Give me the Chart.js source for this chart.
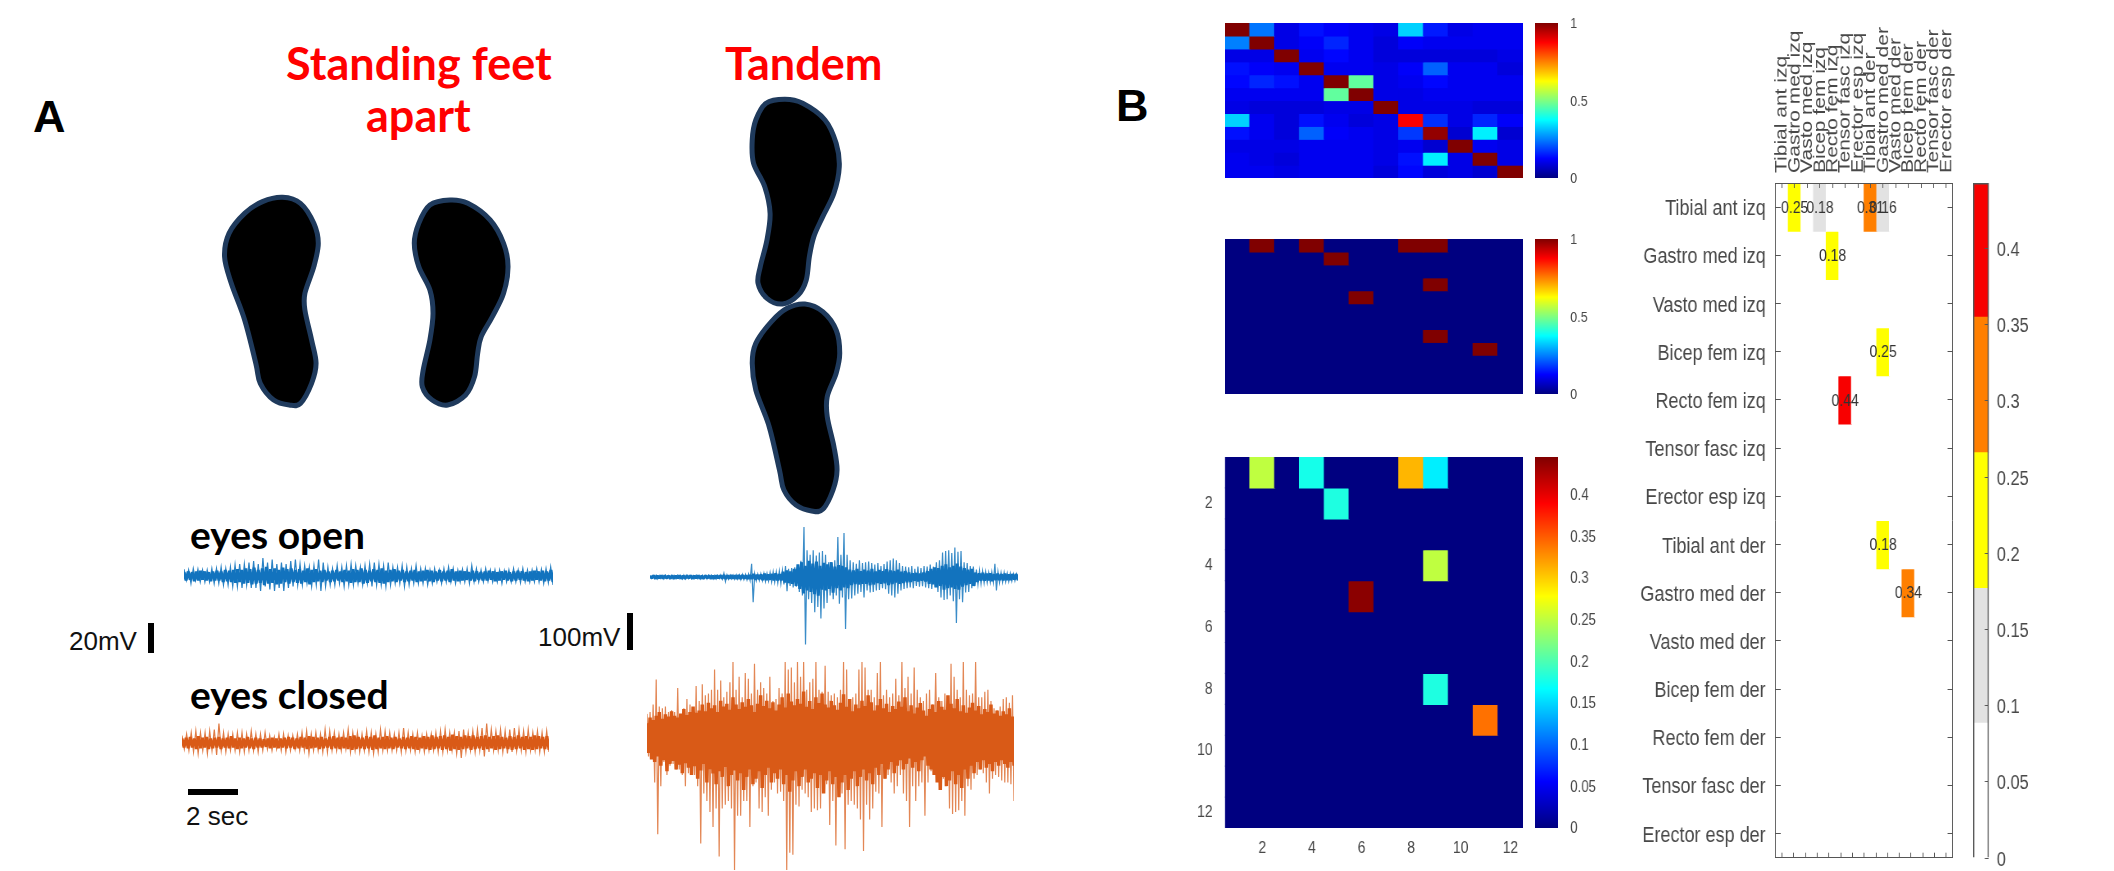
<!DOCTYPE html>
<html>
<head>
<meta charset="utf-8">
<title>EMG traces and muscle coherence</title>
<script src="https://cdn.jsdelivr.net/npm/chart.js@4"></script>
<style>
  html, body { margin: 0; background: #fff; }
  body { position: relative; width: 2114px; height: 871px; overflow: hidden; }
  canvas { position: absolute; transform-origin: 0 0; }
  .t { position: absolute; white-space: nowrap; line-height: 1; }
  .red { font: bold 45px Lato, sans-serif; color: #f00; }
  .cond { font: bold 39px Lato, sans-serif; color: #000; }
  .panel { font: bold 45px "Liberation Sans", sans-serif; color: #000; }
  .note { font: 26px "Liberation Sans", sans-serif; color: #111; }
  .bar { position: absolute; background: #000; }
  svg { position: absolute; }
</style>
</head>
<body>
<div class="t panel" style="left:33px;top:91px">A</div>
<div class="t panel" style="left:1116px;top:80px">B</div>
<div class="t red" style="left:286px;top:36px">Standing feet</div>
<div class="t red" style="left:366px;top:88px">apart</div>
<div class="t red" style="left:725px;top:36px">Tandem</div>
<div class="t cond" style="left:190px;top:511px">eyes open</div>
<div class="t cond" style="left:190px;top:671px">eyes closed</div>
<div class="t note" style="left:69px;top:626px">20mV</div>
<div class="t note" style="left:538px;top:622px">100mV</div>
<div class="t note" style="left:186px;top:801px">2 sec</div>
<div class="bar" style="left:148px;top:623px;width:6px;height:30px"></div>
<div class="bar" style="left:627px;top:613px;width:6px;height:37px"></div>
<div class="bar" style="left:188px;top:789px;width:50px;height:6px"></div>
<svg id="feet" width="700" height="500" viewBox="0 0 1568 1500" preserveAspectRatio="none" style="left:200px;top:20px"></svg>

<script>
// ---- panel A: EMG envelopes (mV), one high/low pair per sample
const traceSeconds = 14.7;

const openApartHigh = [4.5,4,5,4.5,4,4,5,5,6,5,6,7.5,8,8,9,10,8,12,9,11,8,9,8,10,11,8,7,6,7,11,9,6,5,7,6,7,8,7,6,7,8,9,8,7,9,6,6,7,6,5,7,5,5,4,5,4,5,6,5,4,4.5,5,7,5,4,5,4,4,4,3.5,4,5,4,5,4,4,5,4.5,5,6];
const openApartLow = [-3,-5,-3,-4,-4,-4,-5,-5,-6,-6,-7,-7,-8,-6,-8,-8,-10,-7,-9,-10,-8,-10,-8,-7,-6,-6,-5,-7,-6,-10,-7,-6,-6,-5,-7,-6,-6,-5,-6,-5,-7,-6,-6,-7,-6,-5,-5,-7,-6,-5,-5,-5,-6,-5,-4,-5,-4,-4,-5,-4,-4,-5,-4,-4,-4,-3.5,-4,-4,-5,-4,-4,-4,-4.5,-4,-4,-4,-4,-5,-4.5,-6];
const openApartCoreHigh = [2.5,3,2.5,3,3.5,3,2.5,3,3.5,3,4,3.5,4,4.5,4,5,4.5,5.5,4,5,6,4.5,5,4,5.5,4.5,5,4,4.5,3.5,5,4,4.5,3.5,4,3,3.5,4,3,4,3.5,4.5,4,5,4,3.5,4.5,4,5,3.5,4,4.5,3.5,4,3,3.5,4,3,3.5,4,3.5,3,4,3,3.5,4.5,3,3.5,3,2.5,3.5,3,2.5,3,3.5,3,2.5,3,3.5,2.5,3,3.5,3,2.5,3,3.5,3,3.5,3,4];
const openApartCoreLow = [-3,-2.5,-3.5,-3,-2.5,-3,-3.5,-3,-3,-4,-3.5,-4,-4.5,-4,-5,-4.5,-5.5,-5,-4.5,-6,-5,-4.5,-5.5,-5,-4,-5,-4,-4.5,-5,-4,-5.5,-4,-3.5,-4,-3,-4,-3.5,-3,-4,-3.5,-4.5,-4,-4,-5,-4.5,-3.5,-4,-4.5,-5,-4,-3.5,-4,-3,-4,-3.5,-3,-4,-3.5,-3,-3.5,-4,-3,-3.5,-3,-4,-3,-3.5,-3,-2.5,-3,-3.5,-2.5,-3,-3,-2.5,-3.5,-3,-2.5,-3,-3.5,-3,-2.5,-3,-3.5,-3,-2.5,-3,-3.5,-3,-4];

const closedApartHigh = [5,6,7,8,7,7,8,9,13,7,6,6,7,7,6,8,6,6,7,5,4,6,6,5,5,6,7,8,6,7,6,9,8,7,6,7,9,7,7,6,8,7,6,9,8,7,6,7,10,7,6,7,5,6,6,7,8,9,7,7,8,9,7,8,9,10,13,9,8,9,8,9,10,9,8,9,7,8,7,8];
const closedApartLow = [-4,-5,-6,-7,-5,-7,-5,-8,-5,-6,-5,-5,-6,-6,-5,-5,-6,-5,-4,-5,-4,-5,-6,-5,-4,-5,-5,-7,-5,-5,-6,-6,-5,-5,-5,-4,-6,-5,-6,-5,-6,-7,-6,-5,-5,-5,-5,-6,-5,-5,-6,-5,-6,-5,-5,-6,-6,-5,-5,-7,-10,-6,-5,-6,-5,-9,-6,-5,-5,-6,-7,-6,-5,-5,-6,-5,-5,-6,-6,-6];
const closedApartCoreHigh = [3,3.5,4,3,4.5,3.5,4,3,3.5,4,3,3.5,4.5,3,3.5,3,4,3,3.5,3,2.5,3,3.5,3,3,3.5,4,3.5,3,4,3.5,4.5,4,3.5,4,3,4,4.5,3.5,4,3.5,4.5,5,4,3.5,4.5,4,5,3.5,4,4.5,3.5,4,3,4,3.5,4.5,4,3.5,4.5,4,5,4,4.5,5,4,5.5,4.5,4,5,4.5,5,4,4.5,5,4,4.5,5,4,3.5,4.5,4,5,4,4.5,4,5,4.5,4,4.5];
const closedApartCoreLow = [-3,-3.5,-3,-4,-3.5,-3,-4,-3.5,-3,-4,-3,-3.5,-3,-4,-3.5,-3,-3.5,-4,-3,-3,-2.5,-3.5,-3,-3.5,-3,-3.5,-3,-4,-3.5,-3,-4,-3.5,-3,-4,-3.5,-3,-4,-3.5,-4,-3.5,-4,-4.5,-4,-3.5,-4,-3.5,-4.5,-4,-3.5,-4,-3.5,-4,-3,-3.5,-4,-3.5,-4,-4.5,-3.5,-4,-4.5,-4,-3.5,-4.5,-4,-5,-4,-4.5,-4,-3.5,-4.5,-4,-3.5,-4.5,-4,-3.5,-4.5,-4,-3.5,-4,-4.5,-4,-3.5,-4.5,-4,-4.5,-4,-3.5,-4,-4.5];

const openTandemHigh = [4,4,5,4,4,5,4,4,4,5,4,5,5,4,4,5,4,5,4,5,5,4,5,6,10,6,5,5,6,6,7,7,8,36,9,8,9,10,10,12,14,14,16,18,30,22,24,26,30,44,135,72,60,72,58,66,70,60,40,40,45,108,60,119,60,45,40,36,45,38,40,42,38,34,38,30,35,42,45,50,45,38,30,28,26,30,22,28,24,30,28,34,28,40,45,66,70,72,65,80,68,70,40,38,30,28,20,18,16,14,12,14,36,14,12,12,10,10,8,8];
const openTandemLow = [-4,-4,-5,-4,-5,-4,-4,-5,-4,-4,-5,-5,-4,-5,-4,-4,-5,-4,-5,-4,-5,-5,-4,-6,-12,-6,-5,-6,-6,-7,-7,-8,-9,-68,-10,-9,-10,-12,-11,-13,-14,-16,-18,-20,-38,-24,-28,-26,-40,-50,-182,-60,-70,-95,-81,-112,-85,-70,-50,-60,-50,-72,-55,-140,-60,-58,-50,-45,-40,-55,-36,-42,-40,-36,-35,-30,-33,-45,-50,-55,-45,-36,-32,-30,-28,-30,-24,-26,-25,-28,-30,-32,-28,-40,-55,-62,-60,-50,-65,-124,-60,-68,-42,-40,-30,-24,-20,-18,-16,-15,-14,-14,-36,-15,-14,-13,-12,-11,-10,-10];
const openTandemCoreHigh = [3,4,3,4,4,3,4,3,4,3,4,4,3,4,3,4,4,3,4,4,5,4,5,4,5,5,4,5,8,6,7,9,7,8,10,8,14,18,15,22,34,40,30,44,36,42,30,38,34,40,28,32,30,26,20,18,22,16,20,17,22,15,19,16,21,18,16,20,14,16,12,10,11,9,12,16,22,26,24,30,34,26,30,36,28,24,20,22,12,10,11,9,10,8,9,8,9,7,8,8];
const openTandemCoreLow = [-3,-4,-3,-4,-3,-4,-4,-3,-4,-4,-3,-4,-3,-4,-4,-3,-4,-4,-3,-4,-5,-4,-4,-5,-5,-4,-5,-5,-7,-6,-8,-8,-7,-9,-9,-9,-15,-16,-18,-24,-32,-44,-36,-40,-46,-50,-34,-36,-32,-42,-30,-36,-28,-30,-22,-19,-20,-18,-18,-22,-20,-16,-18,-17,-22,-19,-15,-18,-16,-14,-13,-10,-12,-10,-12,-18,-20,-28,-24,-34,-30,-28,-32,-34,-26,-22,-18,-24,-13,-10,-10,-9,-11,-8,-8,-9,-8,-8,-7,-8];

const closedTandemHigh = [65,70,90,158,85,80,85,70,75,70,135,60,80,105,90,75,140,100,145,115,120,130,185,130,155,110,125,150,207,130,165,110,175,160,120,200,130,150,135,120,165,100,105,135,120,205,185,190,150,205,165,205,130,150,160,205,130,125,195,125,115,120,110,130,207,185,105,110,120,185,205,190,130,130,110,175,207,115,130,110,120,160,115,207,135,165,120,190,130,110,100,120,130,90,175,110,100,120,110,200,165,130,110,207,130,115,120,207,110,110,125,130,100,80,75,85,105,110,95,115];
const closedTandemLow = [-50,-55,-120,-260,-130,-65,-100,-75,-70,-85,-85,-100,-130,-95,-80,-100,-130,-285,-150,-170,-200,-240,-190,-320,-190,-180,-170,-190,-356,-210,-210,-170,-170,-240,-130,-120,-190,-200,-160,-210,-140,-120,-150,-145,-170,-356,-310,-315,-180,-185,-140,-150,-160,-200,-190,-195,-190,-130,-125,-235,-170,-290,-140,-150,-300,-180,-170,-180,-190,-220,-305,-180,-220,-190,-145,-150,-240,-110,-100,-120,-150,-130,-100,-150,-170,-240,-130,-170,-130,-120,-210,-120,-90,-40,-60,-130,-110,-125,-190,-205,-200,-195,-170,-210,-130,-140,-110,-100,-85,-95,-120,-150,-110,-100,-105,-115,-120,-120,-125,-170];
const closedTandemCoreHigh = [40,55,48,60,70,52,64,58,72,60,55,66,78,62,70,85,68,74,90,72,95,80,88,70,100,85,92,76,110,90,78,96,84,105,88,70,92,115,86,100,80,96,74,90,110,82,120,98,88,105,92,125,84,100,78,110,94,120,90,82,100,88,76,95,118,84,105,72,90,80,100,86,115,96,74,88,105,80,92,70,86,78,98,84,110,72,88,66,82,94,74,60,78,90,70,100,84,76,115,92,80,105,72,88,68,82,95,74,86,64,78,70,90,66,74,60,72,64,80,58];
const closedTandemCoreLow = [-40,-58,-65,-50,-75,-60,-90,-70,-62,-85,-72,-95,-68,-80,-100,-76,-110,-88,-70,-120,-84,-96,-125,-90,-105,-78,-130,-100,-88,-115,-95,-140,-105,-85,-125,-110,-90,-135,-100,-80,-120,-95,-110,-85,-125,-100,-145,-115,-90,-130,-105,-85,-120,-110,-95,-135,-100,-150,-115,-90,-125,-105,-160,-120,-100,-140,-110,-90,-130,-105,-85,-115,-95,-125,-80,-100,-70,-110,-85,-65,-95,-75,-60,-85,-70,-55,-80,-65,-90,-60,-50,-75,-85,-100,-120,-140,-105,-130,-115,-90,-125,-100,-135,-85,-110,-75,-95,-65,-85,-60,-80,-70,-90,-65,-75,-60,-70,-80,-65,-75];

// ---- panel B: the connectivity matrices
const matrixTicks = [2, 4, 6, 8, 10, 12];
const coherenceRows = [
  [1,.24,.1,.14,.12,.11,.1,.33,.15,.1,.11,.11],
  [.25,1,.1,.12,.16,.11,.09,.12,.11,.11,.11,.11],
  [.1,.1,1,.11,.13,.11,.09,.09,.09,.09,.09,.1],
  [.14,.12,.11,1,.11,.11,.1,.12,.22,.11,.11,.09],
  [.13,.16,.14,.11,1,.47,.1,.11,.13,.11,.11,.11],
  [.11,.11,.11,.11,.47,1,.1,.1,.11,.11,.11,.11],
  [.1,.09,.09,.09,.1,.1,1,.1,.1,.1,.09,.09],
  [.33,.11,.09,.14,.11,.09,.1,.88,.17,.1,.16,.12],
  [.14,.11,.09,.22,.12,.11,.1,.18,.98,.08,.36,.08],
  [.1,.1,.1,.11,.11,.11,.1,.11,.08,1,.11,.1],
  [.11,.1,.09,.11,.11,.11,.1,.14,.36,.1,1,.1],
  [.11,.11,.1,.11,.11,.11,.09,.13,.09,.1,.08,1]
];
const linkRows = [1, 1, 1, 1, 2, 4, 5, 8, 9];
const linkCols = [2, 4, 8, 9, 5, 9, 6, 9, 11];
const linkValues = [.25, .176, .31, .16, .18, .25, .44, .18, .34];
const muscles = ['Tibial ant izq', 'Gastro med izq', 'Vasto med izq', 'Bicep fem izq', 'Recto fem izq', 'Tensor fasc izq', 'Erector esp izq',
  'Tibial ant der', 'Gastro med der', 'Vasto med der', 'Bicep fem der', 'Recto fem der', 'Tensor fasc der', 'Erector esp der'];
const unitTicks = [0, 0.5, 1];
const linkTicks = [0, 0.05, 0.1, 0.15, 0.2, 0.25, 0.3, 0.35, 0.4];
const linkMax = 0.445;
const binEdges = [0, 0.0886, 0.177, 0.266, 0.355, 0.443];
const binColors = ['#ffffff', '#e2e2e2', '#ffff00', '#ff7f00', '#f80000'];

// panel B is squeezed sideways in the figure, so its canvases are drawn wide and scaled back
const squeeze = 0.82;
const wide = n => n / squeeze;
const sans = '"Liberation Sans", sans-serif';
const inkColor = '#484848';
Chart.defaults.animation = false;
Chart.defaults.responsive = false;
Chart.defaults.plugins.legend.display = false;
Chart.defaults.plugins.tooltip.enabled = false;
Chart.defaults.color = inkColor;
Chart.defaults.font.family = sans;

function jet(t) {
  const stops = [[0, 0, 0, 128], [.125, 0, 0, 255], [.375, 0, 255, 255], [.625, 255, 255, 0], [.875, 255, 0, 0], [1, 128, 0, 0]];
  t = Math.min(1, Math.max(0, t));
  let i = 0;
  while (i < stops.length - 2 && t > stops[i + 1][0]) i++;
  const a = stops[i], b = stops[i + 1], k = (t - a[0]) / (b[0] - a[0]);
  return 'rgb(' + [1, 2, 3].map(j => Math.round(a[j] + (b[j] - a[j]) * k)).join(',') + ')';
}

function place(x, y, w, h, k) {
  const c = document.createElement('canvas');
  c.width = Math.round(w / (k || 1));
  c.height = h;
  c.style.left = x + 'px';
  c.style.top = y + 'px';
  if (k) c.style.transform = 'scaleX(' + k + ')';
  document.body.appendChild(c);
  return c;
}

// fixed axis sizes, no label overhang, so the plot area lands where it does in the figure
function flat(s) { s.paddingLeft = s.paddingRight = s.paddingTop = s.paddingBottom = 0; }
const axisWidth = n => s => { s.width = n; flat(s); };
const axisHeight = n => s => { s.height = n; flat(s); };
const pin = values => s => { s.ticks = values.map(v => ({ value: v })); };
const seq = n => Array.from({ length: n }, (_, i) => i + 1);

// ---- traces
function zigzag(high, low) {
  const n = Math.min(high.length, low.length), pts = [];
  for (let i = 0; i < n; i++) {
    pts.push({ x: traceSeconds * (2 * i) / (2 * n - 1), y: high[i] });
    pts.push({ x: traceSeconds * (2 * i + 1) / (2 * n - 1), y: low[i] });
  }
  return pts;
}
function drawTrace(box, mvTop, mvBottom, high, low, coreHigh, coreLow, lineColor, coreColor, coreWidth) {
  new Chart(place(box[0], box[1], box[2], box[3]), {
    type: 'line',
    data: {
      // the first dataset is painted last, so the dense core sits over the thin spikes
      datasets: [
        { data: zigzag(coreHigh, coreLow), fill: false, borderColor: coreColor, borderWidth: coreWidth, borderJoinStyle: 'bevel', pointRadius: 0 },
        { data: zigzag(high, low), fill: false, borderColor: lineColor, borderWidth: 1.2, pointRadius: 0 }
      ]
    },
    options: {
      scales: {
        x: { type: 'linear', display: false, min: 0, max: traceSeconds },
        y: { display: false, min: mvBottom, max: mvTop }
      }
    }
  });
}

drawTrace([184, 553, 369, 47], 15.3, -16, openApartHigh, openApartLow, openApartCoreHigh, openApartCoreLow, '#2a82c4', '#1273be', 3);
drawTrace([182, 718, 367, 47], 16.7, -14.7, closedApartHigh, closedApartLow, closedApartCoreHigh, closedApartCoreLow, '#e07b45', '#d95a17', 3);
drawTrace([650, 520, 368, 130], 154, -197, openTandemHigh, openTandemLow, openTandemCoreHigh, openTandemCoreLow, '#3a8cc8', '#1273be', 3);
drawTrace([647, 662, 367, 209], 205, -359, closedTandemHigh, closedTandemLow, closedTandemCoreHigh, closedTandemCoreLow, '#e38755', '#d95a17', 3.5);

// ---- matrices: one floating-bar dataset per row, one bar per column
function rowDatasets(n, colorOf) {
  return seq(n).map(r => ({
    data: seq(n).map(() => [r - 0.5, r + 0.5]),
    backgroundColor: seq(n).map(c => colorOf(r, c)),
    grouped: false, barPercentage: 1, categoryPercentage: 1, inflateAmount: 0.6
  }));
}
function linkValue(r, c) {
  const i = linkRows.findIndex((row, k) => row === r && linkCols[k] === c);
  return i < 0 ? 0 : linkValues[i];
}

function jetMatrix(box, colorOf, withAxes) {
  const left = withAxes ? 40 : 0, bottom = withAxes ? 30 : 0;
  const font = { size: 17 };
  new Chart(place(box[0] - left, box[1], box[2] + left, box[3] + bottom, squeeze), {
    type: 'bar',
    data: { labels: seq(12), datasets: rowDatasets(12, colorOf) },
    options: {
      scales: {
        x: {
          display: withAxes, afterFit: axisHeight(bottom), grid: { display: false }, border: { display: false },
          ticks: { font, padding: 2, maxRotation: 0, autoSkip: false, callback: (v, i) => (i % 2 ? i + 1 : '') }
        },
        y: {
          display: withAxes, reverse: true, min: 0.5, max: 12.5, afterFit: axisWidth(wide(left)), afterBuildTicks: pin(matrixTicks),
          grid: { display: false }, border: { display: false }, ticks: { font, padding: 7 }
        }
      }
    }
  });
}

function jetColorbar(box, max, tickValues, size) {
  new Chart(place(box[0], box[1] - 10, box[2] + 45, box[3] + 20, squeeze), {
    type: 'bar',
    data: {
      labels: ['scale'],
      datasets: [{
        data: [[0, max]], barPercentage: 1, categoryPercentage: 1,
        backgroundColor: ctx => {
          const a = ctx.chart.chartArea;
          if (!a) return '#000';
          const g = ctx.chart.ctx.createLinearGradient(0, a.bottom, 0, a.top);
          for (let i = 0; i <= 32; i++) g.addColorStop(i / 32, jet(i / 32));
          return g;
        }
      }]
    },
    options: {
      layout: { padding: { top: 10, bottom: 10 } },
      scales: {
        x: { display: false },
        y: {
          position: 'right', min: 0, max, afterFit: axisWidth(wide(45)), afterBuildTicks: pin(tickValues),
          grid: { display: false }, border: { display: false },
          ticks: { font: { size }, padding: 7, labelOffset: 1, callback: v => String(v) }
        }
      }
    }
  });
}

jetMatrix([1225, 23, 298, 155], (r, c) => jet(coherenceRows[r - 1][c - 1]), false);
jetMatrix([1225, 239, 298, 155], (r, c) => jet(linkValue(r, c) > 0 ? 1 : 0), false);
jetMatrix([1225, 457, 298, 371], (r, c) => jet(linkValue(r, c) / linkMax), true);
jetColorbar([1535, 23, 23, 155], 1, unitTicks, 15);
jetColorbar([1535, 239, 23, 155], 1, unitTicks, 15);
jetColorbar([1535, 457, 23, 371], linkMax, linkTicks, 16);

// ---- thresholded matrix with the values written on the cells
function binColor(v) {
  if (!v) return '#ffffff';
  let i = binEdges.length - 2;
  while (i > 0 && v < binEdges[i]) i--;
  return binColors[i];
}
const cellValues = {
  id: 'cellValues',
  afterDatasetsDraw(chart) {
    const { ctx, scales } = chart;
    ctx.save();
    ctx.font = '17px ' + sans;
    ctx.fillStyle = '#333';
    ctx.textAlign = 'center';
    ctx.textBaseline = 'middle';
    linkValues.forEach((v, i) => {
      ctx.fillText(v.toFixed(2), scales.x.getPixelForValue(linkCols[i] - 1), scales.y.getPixelForValue(linkRows[i]) + 1);
    });
    // column names, standing up over their columns
    ctx.font = '21px ' + sans;
    ctx.fillStyle = inkColor;
    ctx.textAlign = 'left';
    muscles.forEach((name, i) => {
      ctx.save();
      ctx.translate(scales.x.getPixelForValue(i), chart.chartArea.top - 10);
      ctx.rotate(-Math.PI / 2);
      ctx.fillText(name, 0, 0);
      ctx.restore();
    });
    ctx.restore();
  }
};
const frame = { display: true, color: '#555', width: 1, z: 1 };
const insideTickX = { drawOnChartArea: false, drawTicks: true, tickLength: -5, tickColor: '#555', z: 1 };
const insideTickY = { ...insideTickX, tickLength: -wide(5) };
new Chart(place(1620, 15, 340, 850, squeeze), {
  type: 'bar',
  data: { labels: muscles, datasets: rowDatasets(14, (r, c) => binColor(linkValue(r, c))) },
  plugins: [cellValues],
  options: {
    layout: { padding: { right: wide(7.7), bottom: 7.3 } },
    scales: {
      x: {
        position: 'top', afterFit: axisHeight(168), grid: { ...insideTickX, offset: false }, border: frame,
        ticks: { display: false }
      },
      xBottom: {
        type: 'linear', position: 'bottom', min: 0.5, max: 14.5, afterFit: axisHeight(0), afterBuildTicks: pin(seq(14)),
        grid: insideTickX, border: frame, ticks: { display: false }
      },
      y: {
        reverse: true, min: 0.5, max: 14.5, afterFit: axisWidth(wide(155.7)), afterBuildTicks: pin(seq(14)),
        grid: insideTickY, border: frame,
        ticks: { font: { size: 22 }, padding: wide(15), labelOffset: 2, color: inkColor, callback: v => muscles[v - 1] }
      },
      yRight: {
        type: 'linear', position: 'right', reverse: true, min: 0.5, max: 14.5, afterFit: axisWidth(0), afterBuildTicks: pin(seq(14)),
        grid: insideTickY, border: frame, ticks: { display: false }
      }
    }
  }
});
new Chart(place(1973, 173, 74, 695, squeeze), {
  type: 'bar',
  data: {
    labels: ['scale'],
    // the outline comes first so it is painted over the colour bands
    datasets: [{
      data: [[0, binEdges[5]]], backgroundColor: 'rgba(0,0,0,0)', borderColor: '#555', borderWidth: 1.2,
      grouped: false, barPercentage: 1, categoryPercentage: 1
    }].concat(binColors.map((color, i) => ({
      data: [[binEdges[i], binEdges[i + 1]]], backgroundColor: color,
      grouped: false, barPercentage: 1, categoryPercentage: 1
    })))
  },
  options: {
    layout: { padding: { top: 10, bottom: 10 } },
    scales: {
      x: { display: false },
      y: {
        position: 'right', min: 0, max: binEdges[5], afterFit: axisWidth(wide(58)), afterBuildTicks: pin(linkTicks),
        grid: { ...insideTickY, tickLength: -wide(4) }, border: { display: false },
        ticks: { font: { size: 20 }, padding: wide(12), labelOffset: 2, color: inkColor, callback: v => String(v) }
      }
    }
  }
});

// ---- foot silhouettes (decoration, in the same frame as the figure's top left block)
const footOutlines = [
  [[185,532],[225,550],[255,610],[265,670],[255,740],[235,820],[235,870],[250,960],[260,1030],[250,1090],[225,1150],[200,1155],[165,1140],[135,1090],[125,1030],[100,900],[70,790],[55,710],[65,640],[100,580],[140,545]],
  [[560,540],[600,550],[650,600],[680,670],[690,740],[680,820],[655,890],[630,950],[622,1000],[615,1070],[595,1125],[555,1155],[520,1140],[498,1100],[500,1050],[515,960],[522,880],[515,810],[490,740],[480,670],[490,610],[515,555]],
  [[1310,238],[1350,250],[1400,300],[1425,370],[1432,440],[1420,520],[1395,590],[1375,650],[1365,710],[1358,780],[1340,825],[1305,852],[1270,835],[1250,790],[1255,740],[1270,660],[1277,580],[1265,500],[1240,430],[1237,360],[1245,300],[1268,250]],
  [[1355,852],[1395,875],[1425,930],[1433,1000],[1425,1060],[1405,1130],[1405,1190],[1420,1280],[1427,1350],[1418,1410],[1395,1468],[1370,1473],[1335,1455],[1308,1410],[1298,1350],[1275,1220],[1245,1110],[1237,1030],[1245,970],[1280,905],[1315,865]]
];
function smoothPath(pts) {
  const n = pts.length;
  let d = 'M' + pts[0].join(' ');
  for (let i = 0; i < n; i++) {
    const p0 = pts[(i - 1 + n) % n], p1 = pts[i], p2 = pts[(i + 1) % n], p3 = pts[(i + 2) % n];
    d += ' C' + (p1[0] + (p2[0] - p0[0]) / 6) + ' ' + (p1[1] + (p2[1] - p0[1]) / 6) + ' ' +
      (p2[0] - (p3[0] - p1[0]) / 6) + ' ' + (p2[1] - (p3[1] - p1[1]) / 6) + ' ' + p2[0] + ' ' + p2[1];
  }
  return d + 'Z';
}
document.getElementById('feet').innerHTML = footOutlines.map(f =>
  '<path d="' + smoothPath(f) + '" fill="#000" stroke="#1f3a5c" stroke-width="5" vector-effect="non-scaling-stroke"/>').join('');
</script>
</body>
</html>
